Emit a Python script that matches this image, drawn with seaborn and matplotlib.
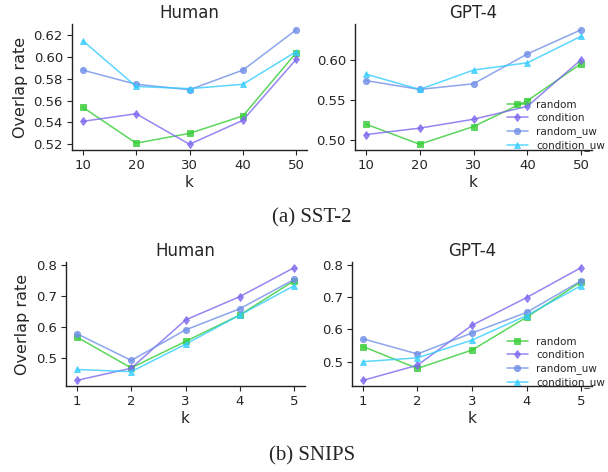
import numpy as np
import pandas as pd
import matplotlib
matplotlib.use("Agg")
import matplotlib.pyplot as plt
import seaborn as sns

# ---- data -------------------------------------------------------------
methods = ["random", "condition", "random_uw", "condition_uw"]

sst2_k = [10, 20, 30, 40, 50]
sst2_human_random = [0.554, 0.521, 0.530, 0.546, 0.604]
sst2_human_condition = [0.541, 0.548, 0.520, 0.542, 0.598]
sst2_human_random_uw = [0.588, 0.575, 0.570, 0.588, 0.625]
sst2_human_condition_uw = [0.615, 0.573, 0.571, 0.575, 0.605]

sst2_gpt4_random = [0.520, 0.495, 0.517, 0.549, 0.595]
sst2_gpt4_condition = [0.507, 0.515, 0.526, 0.542, 0.600]
sst2_gpt4_random_uw = [0.574, 0.563, 0.570, 0.607, 0.637]
sst2_gpt4_condition_uw = [0.582, 0.563, 0.587, 0.596, 0.629]

snips_k = [1, 2, 3, 4, 5]
snips_human_random = [0.568, 0.469, 0.554, 0.639, 0.749]
snips_human_condition = [0.429, 0.468, 0.623, 0.698, 0.791]
snips_human_random_uw = [0.579, 0.493, 0.591, 0.659, 0.753]
snips_human_condition_uw = [0.464, 0.457, 0.545, 0.639, 0.733]

snips_gpt4_random = [0.547, 0.479, 0.536, 0.638, 0.748]
snips_gpt4_condition = [0.442, 0.489, 0.613, 0.699, 0.792]
snips_gpt4_random_uw = [0.571, 0.524, 0.589, 0.653, 0.751]
snips_gpt4_condition_uw = [0.500, 0.512, 0.567, 0.643, 0.736]

sst2_human_yticks = [0.52, 0.54, 0.56, 0.58, 0.60, 0.62]
sst2_gpt4_yticks = [0.50, 0.55, 0.60]
snips_yticks = [0.5, 0.6, 0.7, 0.8]

panel_titles = ["Human", "GPT-4"]
captions = ["(a) SST-2", "(b) SNIPS"]
# -----------------------------------------------------------------------

sns.set_theme(style="ticks")
plt.rcParams["font.family"] = ["DejaVu Sans"]

palette = {
    "random": "#33cc33",
    "condition": "#7b68ee",
    "random_uw": "#6f8fe8",
    "condition_uw": "#33ccff",
}
marker_map = {"random": "s", "condition": "d", "random_uw": "o", "condition_uw": "^"}


def long_frame(k, series):
    rows = []
    for name, vals in zip(methods, series):
        for kk, v in zip(k, vals):
            rows.append({"k": kk, "method": name, "rate": v})
    return pd.DataFrame(rows)


fig = plt.figure(figsize=(6.08, 4.72), dpi=100)
W, H = 608, 472


def px_axes(x0, x1, y0, y1):
    return fig.add_axes([x0 / W, 1 - y1 / H, (x1 - x0) / W, (y1 - y0) / H])


def solid_markers(lines):
    # fill markers fully in the series colour (no white rim)
    for ln in lines:
        ln.set_markeredgecolor(ln.get_color())


panels = [
    (px_axes(72, 307, 24, 150), sst2_k,
     [sst2_human_random, sst2_human_condition, sst2_human_random_uw, sst2_human_condition_uw],
     panel_titles[0], sst2_human_yticks, True),
    (px_axes(355, 592, 24, 150), sst2_k,
     [sst2_gpt4_random, sst2_gpt4_condition, sst2_gpt4_random_uw, sst2_gpt4_condition_uw],
     panel_titles[1], sst2_gpt4_yticks, False),
    (px_axes(66, 305, 262, 386), snips_k,
     [snips_human_random, snips_human_condition, snips_human_random_uw, snips_human_condition_uw],
     panel_titles[0], snips_yticks, True),
    (px_axes(352, 592, 262, 386), snips_k,
     [snips_gpt4_random, snips_gpt4_condition, snips_gpt4_random_uw, snips_gpt4_condition_uw],
     panel_titles[1], snips_yticks, False),
]

for i, (ax, k, series, title, yticks, is_left) in enumerate(panels):
    df = long_frame(k, series)
    sns.lineplot(data=df, x="k", y="rate", hue="method", style="method",
                 hue_order=methods, style_order=methods, palette=palette,
                 markers=marker_map, dashes=False, markersize=4.5,
                 markeredgewidth=0.6, linewidth=1.1, alpha=0.8, ax=ax,
                 legend=not is_left)
    solid_markers(ax.lines)
    ax.set_xticks(k)
    ax.set_yticks(yticks)
    ax.set_title(title, fontsize=12, pad=4)
    ax.set_xlabel("k", fontsize=11, labelpad=2)
    ax.set_ylabel("Overlap rate" if is_left else "", fontsize=11.5)
    ax.tick_params(labelsize=9.5, length=3.5, width=0.8, pad=3)
    for s in ax.spines.values():
        s.set_linewidth(1.0)
        s.set_color("#222222")
    sns.despine(ax=ax)
    if not is_left:
        anchor_y = 100 if i == 1 else 337
        leg = ax.legend(loc="upper left", bbox_to_anchor=(507 / W, 1 - anchor_y / H),
                        bbox_transform=fig.transFigure, frameon=False, fontsize=7.5,
                        borderpad=0, borderaxespad=0, handlelength=2.0,
                        handletextpad=0.8, labelspacing=0.3, title=None)
        solid_markers(leg.get_lines())

fig.text(312 / W, 1 - 218 / H, captions[0], ha="center", va="center",
         fontsize=15, family=["Liberation Serif", "DejaVu Serif"])
fig.text(312 / W, 1 - 456 / H, captions[1], ha="center", va="center",
         fontsize=15, family=["Liberation Serif", "DejaVu Serif"])

fig.savefig("out.png", dpi=100)
